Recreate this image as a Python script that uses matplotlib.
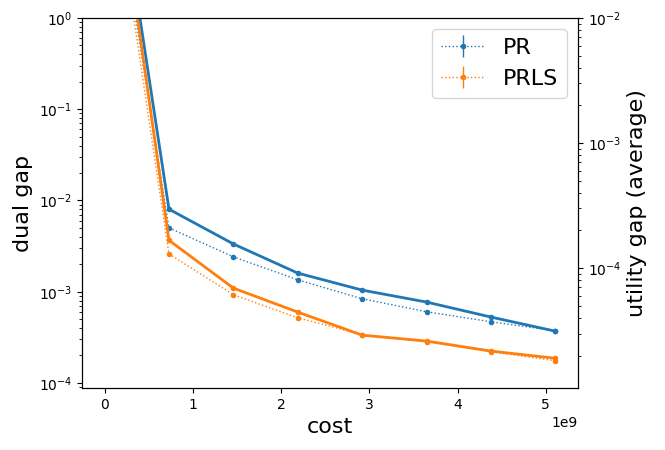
import matplotlib
matplotlib.use("Agg")
import matplotlib.pyplot as plt

cost = [0.0, 0.73e9, 1.46e9, 2.19e9, 2.92e9, 3.65e9, 4.38e9, 5.11e9]

# dual gap (left axis), dotted with error bars
dual_pr = [145, 5.01e-3, 2.41e-3, 1.35e-3, 8.36e-4, 6.03e-4, 4.68e-4, 3.73e-4]
dual_pr_err = [3, 1.5e-4, 6e-5, 3e-5, 2e-5, 1.5e-5, 1.2e-5, 1e-5]
dual_prls = [140, 2.60e-3, 9.25e-4, 5.18e-4, 3.37e-4, 2.83e-4, 2.20e-4, 1.75e-4]
dual_prls_err = [3, 8e-5, 3e-5, 1.5e-5, 1e-5, 8e-6, 7e-6, 6e-6]

# utility gap (average) (right axis), solid
util_pr = [0.73, 2.96e-4, 1.56e-4, 9.12e-5, 6.67e-5, 5.35e-5, 4.06e-5, 3.13e-5]
util_prls = [0.73, 1.67e-4, 6.92e-5, 4.45e-5, 2.91e-5, 2.61e-5, 2.17e-5, 1.90e-5]

labels = ["PR", "PRLS"]

fig = plt.figure(figsize=(6.65, 4.5), dpi=100)
ax = fig.add_axes([82/665, 1-388/450, (578-82)/665, (388-18)/450])
ax2 = ax.twinx()

ax.errorbar(cost, dual_pr, yerr=dual_pr_err, fmt='.:', color='C0', lw=1, label=labels[0])
ax.errorbar(cost, dual_prls, yerr=dual_prls_err, fmt='.:', color='C1', lw=1, label=labels[1])
ax2.plot(cost, util_pr, '.-', color='C0', lw=2)
ax2.plot(cost, util_prls, '.-', color='C1', lw=2)

ax.set_yscale('log')
ax2.set_yscale('log')
ax.set_ylim(8.8e-5, 1)
ax2.set_ylim(1.1e-5, 1e-2)

ax.set_xlabel('cost', fontsize=16)
ax.set_ylabel('dual gap', fontsize=16)
ax2.set_ylabel('utility gap (average)', fontsize=16)
ax.legend(loc='upper right', fontsize=16)

fig.savefig('out.png', dpi=100)
